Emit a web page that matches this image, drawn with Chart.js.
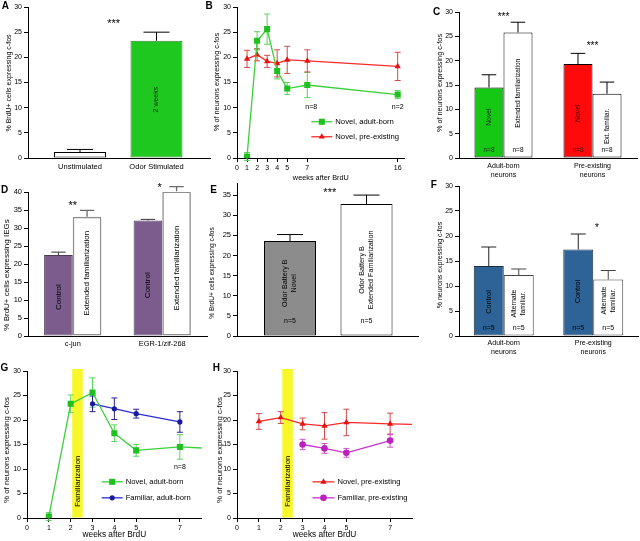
<!DOCTYPE html>
<html><head><meta charset="utf-8">
<script src="https://cdn.jsdelivr.net/npm/chart.js@4.4.1/dist/chart.umd.min.js"></script>
<style>
html,body{margin:0;padding:0;background:#fff;overflow:hidden;}
body{width:640px;height:541px;position:relative;font-family:'Liberation Sans',Arial,sans-serif;}
canvas{position:absolute;}
.lbl{position:absolute;white-space:nowrap;color:#000;line-height:1;transform:translate(-50%,-50%);z-index:5;}
.yt{transform:translate(-50%,-50%) rotate(-90deg);}
.pl{font-weight:bold;font-size:10px;}
</style></head><body>
<div class="lbl pl" style="left:5.3px;top:6.3px">A</div>
<div class="lbl pl" style="left:209px;top:5.5px">B</div>
<div class="lbl pl" style="left:436.7px;top:11.7px">C</div>
<div class="lbl pl" style="left:4.5px;top:189.5px">D</div>
<div class="lbl pl" style="left:213.7px;top:190px">E</div>
<div class="lbl pl" style="left:433.7px;top:185px">F</div>
<div class="lbl pl" style="left:4.5px;top:368.3px">G</div>
<div class="lbl pl" style="left:216.3px;top:368.3px">H</div>
<div class="lbl yt" style="left:8.3px;top:83px;font-size:7px">% BrdU+ cells expressing c-fos</div>
<div class="lbl yt" style="left:216.7px;top:82px;font-size:7.3px">% of neurons expressing c-fos</div>
<div class="lbl yt" style="left:440px;top:82.5px;font-size:7.3px">% of neurons expressing c-fos</div>
<div class="lbl yt" style="left:7.3px;top:275px;font-size:8px">% BrdU+ cells expressing IEGs</div>
<div class="lbl yt" style="left:212.3px;top:273px;font-size:6.6px">% BrdU+ cells expressing c-fos</div>
<div class="lbl yt" style="left:439.3px;top:265px;font-size:7px">% neurons expressing c-fos</div>
<div class="lbl yt" style="left:7.3px;top:450px;font-size:7.9px">% of neurons expressing c-fos</div>
<div class="lbl yt" style="left:220px;top:450px;font-size:7.9px">% of neurons expressing c-fos</div>
<script>
// ---------------- DATA ----------------
// Panel A
const aCategories = ['Unstimulated', 'Odor Stimulated'];
const aValues = [1.2, 23.3];
const aErrors = [0.5, 1.7];
// Panel B
const bWeeks = [1, 2, 3, 4, 5, 7, 16];
const bTicks = [0, 1, 2, 3, 4, 5, 7, 16];
const bNovelAdultBorn = [0.3, 23.3, 25.6, 17.3, 13.8, 14.5, 12.6];
const bNovelAdultBornErr = [0.8, 1.8, 3.0, 1.6, 1.2, 2.5, 0.8];
const bNovelPreExisting = [19.7, 20.5, 19.2, 18.8, 19.5, 19.3, 18.2];
const bNovelPreExistingErr = [1.7, 1.2, 1.2, 2.7, 2.7, 2.2, 2.8];
// Panel C
const cCategories = [['Adult-born', 'neurons'], ['Pre-existing', 'neurons']];
const cNovel = [14.5, 19.3];
const cNovelErr = [2.6, 2.2];
const cExtended = [25.8, 13.2];
const cExtendedErr = [2.1, 2.4];
// Panel D
const dCategories = ['c-jun', 'EGR-1/zif-268'];
const dControl = [22.5, 32.1];
const dControlErr = [0.8, 0.3];
const dExtended = [33.1, 40.2];
const dExtendedErr = [1.8, 1.3];
// Panel E
const eCategories = ['', ''];
const eValues = [23.6, 32.8];
const eErrors = [1.6, 2.2];
// Panel F
const fCategories = [['Adult-born', 'neurons'], ['Pre-existing', 'neurons']];
const fControl = [14.0, 17.3];
const fControlErr = [3.8, 3.1];
const fAlternate = [12.2, 11.3];
const fAlternateErr = [1.2, 1.8];
// Panel G
const gTicks = [0, 1, 2, 3, 4, 5, 7];
const gWeeks = [1, 2, 3, 4, 5, 7, 16];
const gNovelAdultBorn = [0.3, 23.3, 25.6, 17.3, 13.8, 14.5, 12.6];
const gNovelAdultBornErr = [0.8, 1.8, 3.0, 1.7, 1.2, 2.5, 0.8];
const gFamWeeks = [3, 4, 5, 7];
const gFamiliarAdultBorn = [23.3, 22.3, 21.3, 19.6];
const gFamiliarAdultBornErr = [1.6, 2.2, 0.9, 2.1];
// Panel H
const hWeeks = [1, 2, 3, 4, 5, 7, 16];
const hNovelPreExisting = [19.7, 20.5, 19.2, 18.8, 19.5, 19.2, 18.2];
const hNovelPreExistingErr = [1.6, 1.2, 1.2, 2.7, 2.7, 2.2, 2.8];
const hFamWeeks = [3, 4, 5, 7];
const hFamiliarPreExisting = [15.0, 14.2, 13.3, 15.8];
const hFamiliarPreExistingErr = [1.05, 1.0, 0.9, 1.35];
const familiarizationWindow = [2.07, 2.55];

// ---------------- SETUP ----------------
const FONT = "'Liberation Sans', Arial, sans-serif";
Chart.defaults.font.family = FONT;
Chart.defaults.color = '#000';
Chart.defaults.animation = false;
Chart.defaults.events = [];
Chart.defaults.plugins.legend.display = false;
Chart.defaults.plugins.tooltip.enabled = false;

function marker(ctx, style, r, x, y, fill) {
  ctx.save(); ctx.fillStyle = fill; ctx.beginPath();
  if (style === 'rect') { const s = r * Math.SQRT1_2; ctx.rect(x - s, y - s, 2 * s, 2 * s); }
  else if (style === 'triangle') {
    let a = 0; const T = 2 * Math.PI / 3;
    ctx.moveTo(x + Math.sin(a) * r, y - Math.cos(a) * r); a += T;
    ctx.lineTo(x + Math.sin(a) * r, y - Math.cos(a) * r); a += T;
    ctx.lineTo(x + Math.sin(a) * r, y - Math.cos(a) * r); ctx.closePath();
  } else { ctx.arc(x, y, r, 0, Math.PI * 2); }
  ctx.fill(); ctx.restore();
}

function errorBarsPlugin() {
  function draw(chart, kind) {
    const ctx = chart.ctx, ca = chart.chartArea, ys = chart.scales.y;
    chart.data.datasets.forEach((ds, di) => {
      if (!ds.errors) return;
      const meta = chart.getDatasetMeta(di);
      if (meta.type !== kind) return;
      ctx.save(); ctx.strokeStyle = ds.errorColor || '#000'; ctx.lineWidth = ds.errorWidth || 1;
      meta.data.forEach((el, i) => {
        const e = ds.errors[i]; if (e == null) return;
        const raw = ds.data[i]; const v = (typeof raw === 'object') ? raw.y : raw;
        const x = el.x; if (x < ca.left - 0.5 || x > ca.right + 0.5) return;
        ctx.beginPath();
        if (kind === 'bar') {
          const yt = ys.getPixelForValue(v + e), cw = el.width * 0.25;
          ctx.moveTo(x, el.y); ctx.lineTo(x, yt); ctx.moveTo(x - cw, yt); ctx.lineTo(x + cw, yt);
        } else {
          const y1 = ys.getPixelForValue(v + e), y2 = ys.getPixelForValue(v - e), cw = 3;
          ctx.moveTo(x, y1); ctx.lineTo(x, y2);
          ctx.moveTo(x - cw, y1); ctx.lineTo(x + cw, y1);
          ctx.moveTo(x - cw, y2); ctx.lineTo(x + cw, y2);
        }
        ctx.stroke();
      });
      ctx.restore();
    });
  }
  return { id: 'errorBars', beforeDatasetsDraw(c) { draw(c, 'line'); }, afterDatasetsDraw(c) { draw(c, 'bar'); } };
}

function notesPlugin(items) {
  return { id: 'notes', afterDatasetsDraw(chart) {
    const ctx = chart.ctx, xs = chart.scales.x, ys = chart.scales.y;
    items.forEach(it => {
      const px = (it.ds != null) ? chart.getDatasetMeta(it.ds).data[it.i].x : xs.getPixelForValue(it.x);
      const py = ys.getPixelForValue(it.y);
      const size = it.size || 7;
      ctx.save();
      ctx.fillStyle = it.color || '#000';
      ctx.font = size + 'px ' + FONT;
      ctx.textAlign = 'center'; ctx.textBaseline = 'middle';
      ctx.translate(px, py);
      if (it.rot) ctx.rotate(-Math.PI / 2);
      const lines = Array.isArray(it.text) ? it.text : [it.text];
      const lh = size * 1.25;
      lines.forEach((l, j) => ctx.fillText(l, 0, (j - (lines.length - 1) / 2) * lh));
      ctx.restore();
    });
  } };
}

function legendPlugin(s) {
  return { id: 'inlegend', afterDatasetsDraw(chart) {
    const ctx = chart.ctx;
    const x0 = chart.scales.x.getPixelForValue(s.x), y0 = chart.scales.y.getPixelForValue(s.y);
    s.items.forEach((it, k) => {
      const ds = chart.data.datasets[it.ds]; const y = y0 + k * s.dy;
      ctx.save();
      ctx.strokeStyle = ds.borderColor; ctx.lineWidth = ds.borderWidth;
      ctx.beginPath(); ctx.moveTo(x0, y); ctx.lineTo(x0 + s.len, y); ctx.stroke();
      marker(ctx, ds.pointStyle, ds.pointRadius, x0 + s.len / 2, y, ds.pointBackgroundColor);
      ctx.fillStyle = '#000'; ctx.font = s.size + 'px ' + FONT;
      ctx.textAlign = 'left'; ctx.textBaseline = 'middle';
      ctx.fillText(it.text, x0 + s.len + 3, y);
      ctx.restore();
    });
  } };
}

function bandPlugin(s) {
  return { id: 'band', beforeDatasetsDraw(chart) {
    const ctx = chart.ctx, ca = chart.chartArea, xs = chart.scales.x, ys = chart.scales.y;
    const x1 = xs.getPixelForValue(s.from), x2 = xs.getPixelForValue(s.to);
    ctx.save();
    ctx.fillStyle = s.color; ctx.fillRect(x1, ca.top - 2, x2 - x1, ca.bottom - ca.top + 1.5);
    ctx.fillStyle = '#000'; ctx.font = s.size + 'px ' + FONT;
    ctx.textAlign = 'center'; ctx.textBaseline = 'middle';
    ctx.translate((x1 + x2) / 2, ys.getPixelForValue(s.textY)); ctx.rotate(-Math.PI / 2);
    ctx.fillText(s.text, 0, 0);
    ctx.restore();
  } };
}

const BORDER = { display: true, color: '#000', width: 1 };
function yAxis(max, size) {
  return { min: 0, max: max,
    ticks: { stepSize: 5, font: { size: size }, padding: 2, includeBounds: false },
    grid: { display: true, drawOnChartArea: false, drawTicks: true, tickLength: 4, color: '#000', lineWidth: 1 },
    border: BORDER };
}
function catAxis(size, pad) {
  return { type: 'category', grid: { display: false, drawTicks: false }, border: BORDER,
    ticks: { font: { size: size }, padding: pad, maxRotation: 0, autoSkip: false } };
}
function linCatAxis(cats, min, max, size, pad) {
  return { type: 'linear', min: min, max: max, offset: false,
    afterBuildTicks: s => { s.ticks = cats.map((c, i) => ({ value: i })); },
    ticks: { callback: v => (cats[v] !== undefined ? cats[v] : ''), font: { size: size }, padding: pad, maxRotation: 0, autoSkip: false },
    grid: { display: false, drawTicks: false, offset: false }, border: BORDER };
}
function linAxis(min, max, ticks, size, title, tsize) {
  return { type: 'linear', min: min, max: max,
    afterBuildTicks: s => { s.ticks = ticks.map(v => ({ value: v })); },
    ticks: { font: { size: size }, padding: 2, maxRotation: 0, autoSkip: false },
    grid: { display: true, drawOnChartArea: false, drawTicks: true, tickLength: 4, color: '#000' },
    border: BORDER,
    title: { display: true, text: title, font: { size: tsize }, padding: { top: 0, bottom: 0 } } };
}
function lineDs(xs, ys, errs, st) {
  return Object.assign({ data: xs.map((x, i) => ({ x: x, y: ys[i] })), errors: errs, fill: false, tension: 0,
    pointBorderWidth: 0, borderWidth: 1.3 }, st);
}

function makePanel(box, config) {
  const ML = 26, MT = box.mt || 7, MR = 4, MB = box.mb || 30;
  const cv = document.createElement('canvas');
  const W = box.r - box.l + ML + MR, H = box.b - box.t + MT + MB;
  cv.width = W; cv.height = H;
  cv.style.left = (box.l - ML) + 'px'; cv.style.top = (box.t - MT) + 'px';
  cv.style.width = W + 'px'; cv.style.height = H + 'px';
  document.body.appendChild(cv);
  Object.assign(config.options, { responsive: false, maintainAspectRatio: false, devicePixelRatio: 1,
    layout: { padding: { top: MT, right: MR, left: 0, bottom: 0 } } });
  config.options.scales.x.afterFit = s => { s.height = MB; };
  config.options.scales.y.afterFit = s => { s.width = ML; };
  return new Chart(cv, config);
}

const GREEN = { borderColor: '#3ccf3c', pointBackgroundColor: '#1fbf1f', backgroundColor: '#1fbf1f', pointStyle: 'rect', pointRadius: 4.3, errorColor: '#5ad35a' };
const RED = { borderColor: '#ff2a2a', pointBackgroundColor: '#e81010', backgroundColor: '#e81010', pointStyle: 'triangle', pointRadius: 3.6, errorColor: '#d24a4a' };
const BLUE = { borderColor: '#2b2bd6', pointBackgroundColor: '#1a1aa0', backgroundColor: '#1a1aa0', pointStyle: 'circle', pointRadius: 2.6, errorColor: '#25258f' };
const MAGENTA = { borderColor: '#cc33cc', pointBackgroundColor: '#bb22bb', backgroundColor: '#bb22bb', pointStyle: 'circle', pointRadius: 3.3, errorColor: '#cc55cc' };

// ---------------- PANEL A ----------------
makePanel({ l: 28, t: 7, r: 210, b: 158 }, {
  type: 'bar',
  data: { datasets: [{ data: aValues.map((v, i) => ({ x: i, y: v })), errors: aErrors,
    backgroundColor: ['#ffffff', '#1ec81e'], borderColor: ['#000000', '#3c7a3c'], borderWidth: 1, borderSkipped: false,
    categoryPercentage: 0.68, barPercentage: 1, errorColor: '#000' }] },
  options: { scales: { x: linCatAxis(aCategories, -0.68, 1.70, 7.5, 4), y: yAxis(30, 7) } },
  plugins: [errorBarsPlugin(), notesPlugin([
    { x: 0.44, y: 26.6, text: '***', size: 11 },
    { ds: 0, i: 1, y: 11.6, text: '2 weeks', rot: true, size: 7, color: '#1a2a1a' }
  ])]
});

// ---------------- PANEL B ----------------
makePanel({ l: 237, t: 7, r: 405, b: 158, mb: 24 }, {
  type: 'line',
  data: { datasets: [
    lineDs(bWeeks, bNovelAdultBorn, bNovelAdultBornErr, GREEN),
    lineDs(bWeeks, bNovelPreExisting, bNovelPreExistingErr, RED)
  ] },
  options: { scales: { x: linAxis(0, 16.7, bTicks, 7, 'weeks after BrdU', 7.3), y: yAxis(30, 7) } },
  plugins: [errorBarsPlugin(), notesPlugin([
    { x: 7.4, y: 10.2, text: 'n=8', size: 7 },
    { x: 16, y: 10.1, text: 'n=2', size: 7 }
  ]), legendPlugin({ x: 7.4, y: 7.2, dy: 15, len: 21, size: 7.7,
    items: [{ ds: 0, text: 'Novel, adult-born' }, { ds: 1, text: 'Novel, pre-existing' }] })]
});

// ---------------- PANEL C ----------------
makePanel({ l: 459, t: 12, r: 637, b: 158 }, {
  type: 'bar',
  data: { labels: cCategories, datasets: [
    { data: cNovel, errors: cNovelErr, backgroundColor: ['#14c814', '#ff0a0a'], borderColor: '#000', borderWidth: 1,
      borderSkipped: false, categoryPercentage: 0.652, barPercentage: 1, errorColor: '#000' },
    { data: cExtended, errors: cExtendedErr, backgroundColor: '#ffffff', borderColor: '#000', borderWidth: 1,
      borderSkipped: false, categoryPercentage: 0.652, barPercentage: 1, errorColor: '#000' }
  ] },
  options: { scales: { x: catAxis(7, 4), y: yAxis(30, 7) } },
  plugins: [errorBarsPlugin(), notesPlugin([
    { x: 0, y: 29.0, text: '***', size: 10 },
    { x: 1, y: 23.0, text: '***', size: 10 },
    { ds: 0, i: 0, y: 8.4, text: 'Novel', rot: true, size: 6.8, color: '#1a2a1a' },
    { ds: 1, i: 0, y: 13.3, text: 'Extended familiarization', rot: true, size: 6.5 },
    { ds: 0, i: 1, y: 9.2, text: 'Novel', rot: true, size: 6.8, color: '#3a0a0a' },
    { ds: 1, i: 1, y: 6.5, text: 'Ext. familiar.', rot: true, size: 6.5 },
    { ds: 0, i: 0, y: 1.55, text: 'n=8', size: 6.5, color: '#1a2a1a' },
    { ds: 1, i: 0, y: 1.55, text: 'n=8', size: 6.5 },
    { ds: 0, i: 1, y: 1.55, text: 'n=8', size: 6.5, color: '#3a0a0a' },
    { ds: 1, i: 1, y: 1.55, text: 'n=8', size: 6.5 }
  ])]
});

// ---------------- PANEL D ----------------
makePanel({ l: 28, t: 192, r: 207, b: 336, mt: 14 }, {
  type: 'bar',
  data: { labels: dCategories, datasets: [
    { data: dControl, errors: dControlErr, backgroundColor: '#7b5c8c', borderColor: '#4a3a55', borderWidth: 1,
      borderSkipped: false, categoryPercentage: 0.64, barPercentage: 1, errorColor: '#333' },
    { data: dExtended, errors: dExtendedErr, backgroundColor: '#ffffff', borderColor: '#8f8f8f', borderWidth: 1.6,
      borderSkipped: false, categoryPercentage: 0.64, barPercentage: 1, errorColor: '#6a6a6a', errorWidth: 1.3 }
  ] },
  options: { scales: { x: catAxis(7.4, 4), y: yAxis(40, 7.5) } },
  plugins: [errorBarsPlugin(), notesPlugin([
    { x: 0, y: 36.0, text: '**', size: 11 },
    { x: 0.97, y: 41.0, text: '*', size: 11 },
    { ds: 0, i: 0, y: 10.8, text: 'Control', rot: true, size: 8 },
    { ds: 1, i: 0, y: 17.4, text: 'Extended familiarization', rot: true, size: 8 },
    { ds: 0, i: 1, y: 14.1, text: 'Control', rot: true, size: 8 },
    { ds: 1, i: 1, y: 18.9, text: 'Extended familiarization', rot: true, size: 8 }
  ])]
});

// ---------------- PANEL E ----------------
makePanel({ l: 237, t: 183, r: 418, b: 336 }, {
  type: 'bar',
  data: { datasets: [{ data: eValues.map((v, i) => ({ x: i, y: v })), errors: eErrors,
    backgroundColor: ['#8c8c8c', '#ffffff'], borderColor: '#000', borderWidth: 1, borderSkipped: false,
    categoryPercentage: 0.68, barPercentage: 1, errorColor: '#000' }] },
  options: { scales: { x: linCatAxis(eCategories, -0.693, 1.673, 7, 3), y: yAxis(38, 7.5) } },
  plugins: [errorBarsPlugin(), notesPlugin([
    { x: 0.52, y: 35.4, text: '***', size: 11 },
    { ds: 0, i: 0, y: 13.1, text: ['Odor Battery B', 'Novel'], rot: true, size: 7.2 },
    { ds: 0, i: 1, y: 16.4, text: ['Odor Battery B', 'Extended Familiarization'], rot: true, size: 7.2 },
    { ds: 0, i: 0, y: 3.7, text: 'n=5', size: 7 },
    { ds: 0, i: 1, y: 3.7, text: 'n=5', size: 7 }
  ])]
});

// ---------------- PANEL F ----------------
makePanel({ l: 459, t: 186, r: 638, b: 336 }, {
  type: 'bar',
  data: { labels: fCategories, datasets: [
    { data: fControl, errors: fControlErr, backgroundColor: '#2d6397', borderColor: '#1c2c3c', borderWidth: 1,
      borderSkipped: false, categoryPercentage: 0.67, barPercentage: 1, errorColor: '#222' },
    { data: fAlternate, errors: fAlternateErr, backgroundColor: '#ffffff', borderColor: '#444', borderWidth: 1,
      borderSkipped: false, categoryPercentage: 0.67, barPercentage: 1, errorColor: '#444' }
  ] },
  options: { scales: { x: catAxis(7, 3), y: yAxis(30, 7) } },
  plugins: [errorBarsPlugin(), notesPlugin([
    { x: 1.04, y: 21.6, text: '*', size: 10 },
    { ds: 0, i: 0, y: 6.8, text: 'Control', rot: true, size: 7.3 },
    { ds: 1, i: 0, y: 6.5, text: ['Alternate', 'familiar.'], rot: true, size: 7 },
    { ds: 0, i: 1, y: 8.9, text: 'Control', rot: true, size: 7.3 },
    { ds: 1, i: 1, y: 7.1, text: ['Alternate', 'familiar.'], rot: true, size: 7 },
    { ds: 0, i: 0, y: 1.6, text: 'n=5', size: 7 },
    { ds: 1, i: 0, y: 1.6, text: 'n=5', size: 7 },
    { ds: 0, i: 1, y: 1.6, text: 'n=5', size: 7 },
    { ds: 1, i: 1, y: 1.6, text: 'n=5', size: 7 }
  ])]
});

// ---------------- PANEL G ----------------
makePanel({ l: 27, t: 371, r: 202, b: 518, mb: 22 }, {
  type: 'line',
  data: { datasets: [
    lineDs(gWeeks, gNovelAdultBorn, gNovelAdultBornErr, GREEN),
    lineDs(gFamWeeks, gFamiliarAdultBorn, gFamiliarAdultBornErr, BLUE)
  ] },
  options: { scales: { x: linAxis(0, 8, gTicks, 7, 'weeks after BrdU', 8.3), y: yAxis(30, 7) } },
  plugins: [bandPlugin({ from: familiarizationWindow[0], to: familiarizationWindow[1], color: '#f7f72a', text: 'Familiarization', textY: 7.5, size: 8 }),
    errorBarsPlugin(), notesPlugin([{ x: 7, y: 10.4, text: 'n=8', size: 7 }]),
    legendPlugin({ x: 3.42, y: 7.38, dy: 16, len: 21, size: 7.6,
      items: [{ ds: 0, text: 'Novel, adult-born' }, { ds: 1, text: 'Familiar, adult-born' }] })]
});

// ---------------- PANEL H ----------------
makePanel({ l: 237, t: 371, r: 412, b: 518, mb: 22 }, {
  type: 'line',
  data: { datasets: [
    lineDs(hWeeks, hNovelPreExisting, hNovelPreExistingErr, RED),
    lineDs(hFamWeeks, hFamiliarPreExisting, hFamiliarPreExistingErr, MAGENTA)
  ] },
  options: { scales: { x: linAxis(0, 8, gTicks, 7, 'weeks after BrdU', 8.3), y: yAxis(30, 7) } },
  plugins: [bandPlugin({ from: familiarizationWindow[0], to: familiarizationWindow[1], color: '#f7f72a', text: 'Familiarization', textY: 7.5, size: 8 }),
    errorBarsPlugin(),
    legendPlugin({ x: 3.45, y: 7.38, dy: 16, len: 22, size: 7.6,
      items: [{ ds: 0, text: 'Novel, pre-existing' }, { ds: 1, text: 'Familiar, pre-existing' }] })]
});
</script>
</body></html>
